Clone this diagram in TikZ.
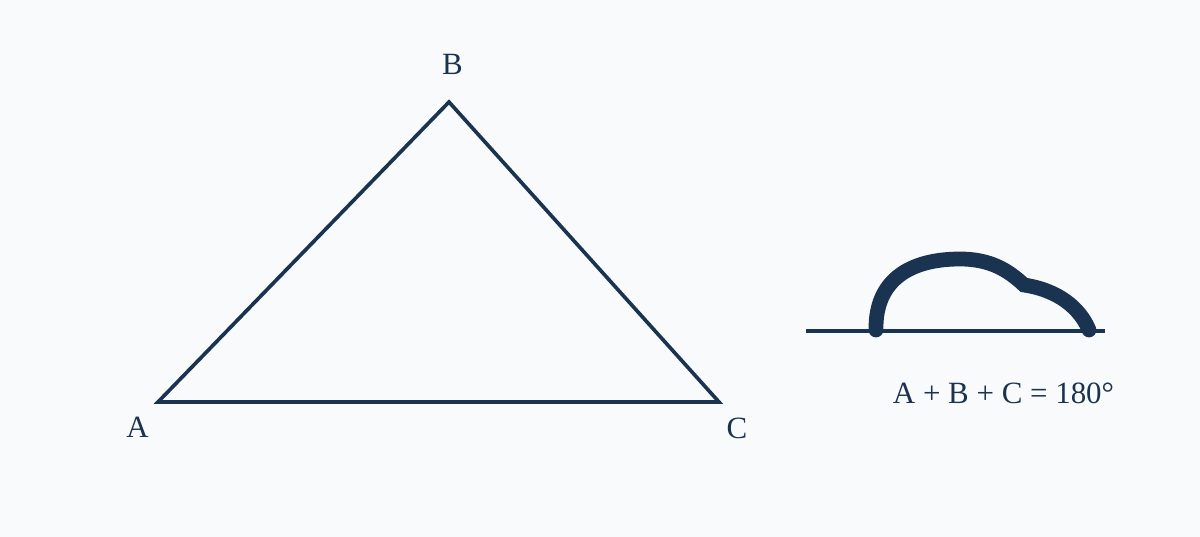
\documentclass[tikz,border=0pt]{standalone}
\usepackage{fontspec}
\setmainfont{Liberation Serif}
\definecolor{navy}{HTML}{1A3350}
\definecolor{paper}{HTML}{F8FAFC}
\newcommand{\labsize}{\fontsize{22}{26}\selectfont}

\begin{document}
\begin{tikzpicture}[x=0.025cm, y=-0.025cm, font=\labsize,
    every node/.style={text=navy, anchor=base, inner sep=0pt},
    edge/.style={draw=navy, line width=2.6pt, line join=miter},
    base/.style={draw=navy, line width=2.6pt},
    sweep/.style={draw=navy, line width=10.5pt, line cap=round}]
    % Background.
    \fill[paper] (0,0) rectangle (1200,537);
    \useasboundingbox (0,0) rectangle (1200,537);

    % Vertices.
    \coordinate (A) at (158,402);
    \coordinate (B) at (449,102);
    \coordinate (C) at (719,402);

    % Triangle.
    \draw[edge] (A) -- (B) -- (C) -- cycle;

    % Vertex labels.
    \node (labA) at (137.5,437) {A};
    \node (labB) at (452.5,75) {B};
    \node (labC) at (737,438) {C};

    % Straight line.
    \coordinate (lineL) at (806,331);
    \coordinate (lineR) at (1105,331);
    \draw[base] (lineL) -- (lineR);

    % Angles put together.
    \coordinate (footL) at (876,330);
    \coordinate (top) at (960,259);
    \coordinate (notch) at (1024,285);
    \coordinate (footR) at (1089,330);
    \draw[sweep] (footL) .. controls (875,280) and (910,259) .. (top)
        .. controls (990,259) and (1008,270) .. (notch)
        .. controls (1058,290) and (1080,308) .. (footR);

    % Sum.
    \node (sum) at (1003.5,403) {A + B + C = 180°};
\end{tikzpicture}
\end{document}
